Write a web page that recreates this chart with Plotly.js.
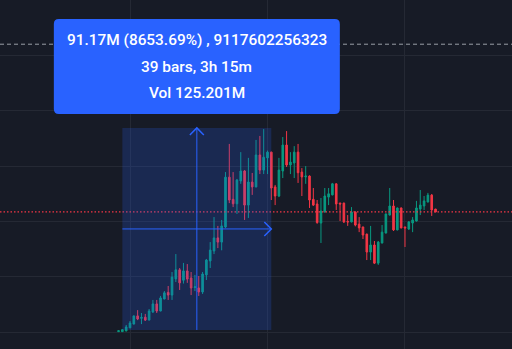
<!DOCTYPE html>
<html>
<head>
<meta charset="utf-8">
<script src="https://cdn.plot.ly/plotly-3.0.1.min.js"></script>
<style>
html,body{margin:0;padding:0;background:#171b26;}
#chart{width:512px;height:349px;}
</style>
</head>
<body>
<div id="chart"></div>
<script>
// 5-minute bars, prices in millions
var firstBar = -3;
var openM  = [0.3,0.3,0.6,2.0,3.7,7.4,6.3,6.8,5.5,9.2,12.8,9.6,15.0,18.0,16.8,24.1,28.2,23.5,27.7,24.5,20.2,20.0,18.2,25.9,32.2,36.7,42.6,40.7,47.5,70.0,60.0,58.0,68.3,72.8,57.4,67.8,65.6,80.0,73.2,78.7,81.3,65.6,61.5,72.8,84.5,75.5,76.4,81.3,72.3,70.1,70.5,60.0,57.9,49.3,54.3,61.0,62.0,67.0,58.3,58.3,50.0,49.8,54.3,48.8,47.5,44.3,36.2,39.4,31.2,40.3,44.8,52.9,57.0,46.2,56.1,47.5,46.6,49.3,50.2,55.6,57.0,58.8,61.9,55.6];
var highM  = [0.7,1.3,3.3,5.1,7.5,10.0,8.7,8.3,10.5,14.6,14.6,16.4,18.6,20.9,27.2,35.3,29.0,31.3,30.8,27.2,25.9,25.4,27.2,33.1,40.7,52.0,48.0,50.7,72.3,85.0,72.3,69.2,81.3,73.2,78.7,71.9,86.8,88.6,91.7,82.0,81.5,66.5,78.7,88.1,90.8,81.3,84.0,85.0,74.1,75.0,70.8,65.1,59.7,60.6,65.1,65.1,67.4,67.2,58.5,58.5,52.9,56.5,54.5,52.0,47.7,44.5,48.0,41.2,41.2,48.4,53.6,65.1,59.7,56.3,56.3,47.7,50.2,52.0,59.3,64.2,61.5,62.9,62.4,55.7];
var lowM   = [0.3,0.2,0.5,1.9,3.6,5.5,3.7,5.1,5.4,8.7,8.7,9.5,14.9,14.6,14.6,22.7,19.1,22.0,22.3,16.8,18.6,16.4,17.3,23.6,29.0,35.3,38.0,37.0,47.0,58.3,56.5,53.4,67.0,50.7,51.6,62.0,65.4,71.4,71.4,71.4,59.7,57.4,61.0,69.6,74.6,71.4,69.6,67.4,61.5,67.0,56.1,57.0,49.0,40.3,54.0,57.4,61.8,55.2,50.2,49.3,48.0,49.6,47.8,45.2,42.1,32.6,32.6,30.8,30.4,40.1,44.6,52.7,45.7,46.0,46.9,38.5,46.2,45.2,50.0,52.9,55.2,58.6,52.5,54.2];
var closeM = [0.7,1.2,2.4,4.2,7.4,6.0,6.7,5.5,9.6,12.8,9.6,15.5,17.8,16.8,24.9,28.2,22.3,27.7,24.0,20.0,20.5,18.2,26.3,32.6,37.1,42.6,40.7,48.0,70.0,59.7,58.0,68.7,72.8,57.4,67.8,65.6,80.0,73.2,79.0,81.3,65.1,61.5,73.2,84.5,75.5,76.8,81.3,72.0,70.1,70.5,59.7,57.4,49.5,54.7,61.5,62.5,67.0,57.9,57.9,49.8,49.8,54.3,48.4,47.1,43.9,36.2,39.4,31.2,40.7,45.2,53.4,57.0,46.2,56.1,47.1,47.1,49.8,50.7,56.1,57.4,59.3,61.9,55.2,54.3];

// measurement tool
var measureStartBar = -2;
var measureEndBar = 37;
var measureFrom = 1.0535;
var measureTo = 92.22;
var highLine = 130;
var labelLines = ["91.17M (8653.69%) , 9117602256323", "39 bars, 3h 15m", "Vol 125.201M"];

var bars = openM.map(function(_, k){ return firstBar + k; });
var lastClose = closeM[closeM.length - 1];
var midBar = (measureStartBar + measureEndBar) / 2;
var midPrice = (measureFrom + measureTo) / 2;

var BLUE = '#2962ff';

var trace = {
  type: 'candlestick',
  x: bars, open: openM, high: highM, low: lowM, close: closeM,
  increasing: {line: {color: '#089981', width: 1}, fillcolor: '#089981'},
  decreasing: {line: {color: '#f23645', width: 1}, fillcolor: '#f23645'},
  whiskerwidth: 0,
  hoverinfo: 'skip',
  showlegend: false
};

var shapes = [
  {type:'line', xref:'paper', x0:0, x1:1, yref:'y', y0:highLine, y1:highLine,
   line:{color:'#9a9da6', width:1, dash:'4px,3px'}, layer:'above'},
  {type:'line', xref:'paper', x0:0, x1:1, yref:'y', y0:lastClose, y1:lastClose,
   line:{color:'#f23645', width:1.3, dash:'1.5px,2px'}, layer:'above'},
  {type:'rect', xref:'x', yref:'y', x0:measureStartBar, x1:measureEndBar, y0:measureFrom, y1:measureTo,
   fillcolor:'rgba(41,98,255,0.2)', line:{width:0}, layer:'above'},
  {type:'line', xref:'x', yref:'y', x0:midBar, x1:midBar, y0:measureFrom, y1:measureTo,
   line:{color:BLUE, width:1}, layer:'above'},
  {type:'line', xref:'x', yref:'y', x0:measureStartBar, x1:measureEndBar, y0:midPrice, y1:midPrice,
   line:{color:BLUE, width:1}, layer:'above'},
  {type:'path', xref:'x', yref:'y', xsizemode:'pixel', ysizemode:'pixel',
   xanchor:midBar, yanchor:measureTo, path:'M-7,-7 L0,0 L7,-7',
   line:{color:BLUE, width:1.5}, layer:'above'},
  {type:'path', xref:'x', yref:'y', xsizemode:'pixel', ysizemode:'pixel',
   xanchor:measureEndBar, yanchor:midPrice, path:'M-7,7 L0,0 L-7,-7',
   line:{color:BLUE, width:1.5}, layer:'above'},
  {type:'path', xref:'x', yref:'y', xsizemode:'pixel', ysizemode:'pixel',
   xanchor:midBar, yanchor:measureTo,
   path:'M-138,14 L138,14 Q143,14 143,19 L143,104 Q143,109 138,109 L-138,109 Q-143,109 -143,104 L-143,19 Q-143,14 -138,14 Z',
   fillcolor:BLUE, line:{width:0}, layer:'above'}
];

var shifts = [88, 61, 35];
var annotations = labelLines.map(function(t, k){
  return {x: midBar, y: measureTo, xref:'x', yref:'y', yshift: shifts[k],
          text: t, showarrow:false, xanchor:'center', yanchor:'middle',
          font:{family:'Roboto, "Open Sans", sans-serif', size:15.4, color:'#ffffff', weight:500}};
});

var layout = {
  width:512, height:349,
  margin:{l:0, r:0, t:0, b:0, pad:0},
  paper_bgcolor:'#171b26', plot_bgcolor:'#171b26',
  showlegend:false,
  boxgap:0.4,
  xaxis:{range:[-34.04, 100.02], tick0:0, dtick:36, showgrid:true, gridcolor:'#252934', gridwidth:1,
         zeroline:false, showticklabels:false, ticks:'', showline:false, rangeslider:{visible:false}, fixedrange:true},
  yaxis:{range:[-7.54, 149.95], tick0:0, dtick:25, showgrid:true, gridcolor:'#252934', gridwidth:1,
         zeroline:false, showticklabels:false, ticks:'', showline:false, fixedrange:true},
  shapes: shapes,
  annotations: annotations
};

Plotly.newPlot('chart', [trace], layout, {staticPlot:true, displayModeBar:false});
</script>
</body>
</html>
